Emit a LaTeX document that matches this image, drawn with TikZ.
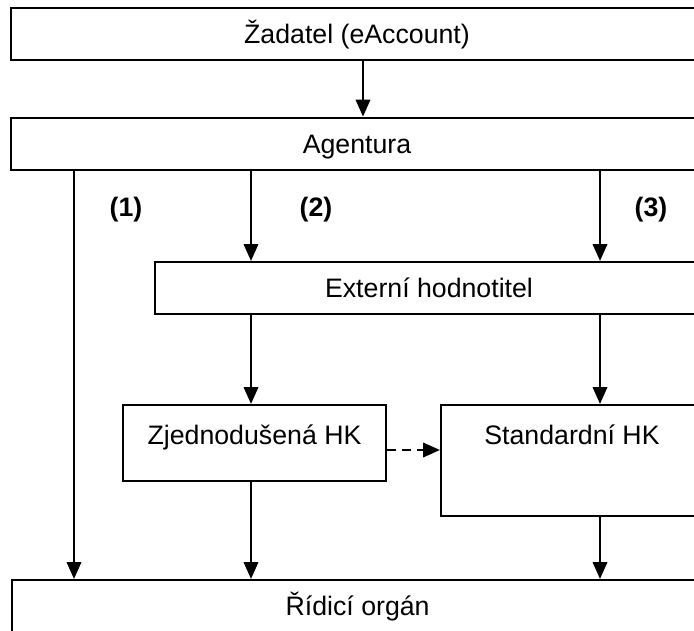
\documentclass[tikz,border=0pt]{standalone}
\usepackage{fontspec}
\setmainfont{Liberation Sans}
\usetikzlibrary{arrows.meta}

\begin{document}
\begin{tikzpicture}[
    box/.style={draw, line width=1.5pt, inner sep=0pt, font=\fontsize{19}{22}\selectfont,
      text height=0.89cm, text depth=0.41cm},
    topbox/.style={box, text height=0.99cm},
    arr/.style={line width=1.5pt, -{Triangle[length=0.42cm,width=0.36cm]}},
    num/.style={font=\fontsize{19}{22}\selectfont\bfseries}
  ]
  % page size of the reference
  \useasboundingbox (0,0) rectangle (17.35,15.75);

  % boxes
  \node[box, minimum width=17.3cm] (zadatel) at (8.925,14.9) {Žadatel (eAccount)};
  \node[box, minimum width=17.3cm] (agentura) at (8.925,12.16) {Agentura};
  \node[box, minimum width=13.7cm] (externi) at (10.725,8.55) {Externí hodnotitel};
  \node[topbox, minimum width=6.575cm, text depth=0.91cm] (zjed) at (6.3625,4.675) {Zjednodušená HK};
  \node[topbox, minimum width=6.55cm, text depth=1.785cm] (standard) at (14.3,4.2375) {Standardní HK};
  \node[box, minimum width=17.28cm] (ridici) at (8.94,0.6) {Řídicí orgán};

  % x positions of the vertical lines
  \coordinate (c1) at (1.85,0);
  \coordinate (c2) at (6.275,0);
  \coordinate (c3) at (15.0,0);
  \coordinate (c0) at (9.075,0);

  % labels of the three paths
  \node[num] (p1) at (3.15,10.5) {(1)};
  \node[num] (p2) at (7.9,10.5) {(2)};
  \node[num] (p3) at (16.275,10.5) {(3)};

  % connectors
  \draw[arr] (zadatel.south -| c0) -- (agentura.north -| c0);
  \draw[arr] (agentura.south -| c1) -- (ridici.north -| c1);
  \draw[arr] (agentura.south -| c2) -- (externi.north -| c2);
  \draw[arr] (agentura.south -| c3) -- (externi.north -| c3);
  \draw[arr] (externi.south -| c2) -- (zjed.north -| c2);
  \draw[arr] (externi.south -| c3) -- (standard.north -| c3);
  \draw[arr] (zjed.south -| c2) -- (ridici.north -| c2);
  \draw[arr] (standard.south -| c3) -- (ridici.north -| c3);
  \draw[arr, dashed, dash pattern=on 0.22cm off 0.15cm] (zjed.east |- 0,4.5) -- (standard.west |- 0,4.5);
\end{tikzpicture}
\end{document}
